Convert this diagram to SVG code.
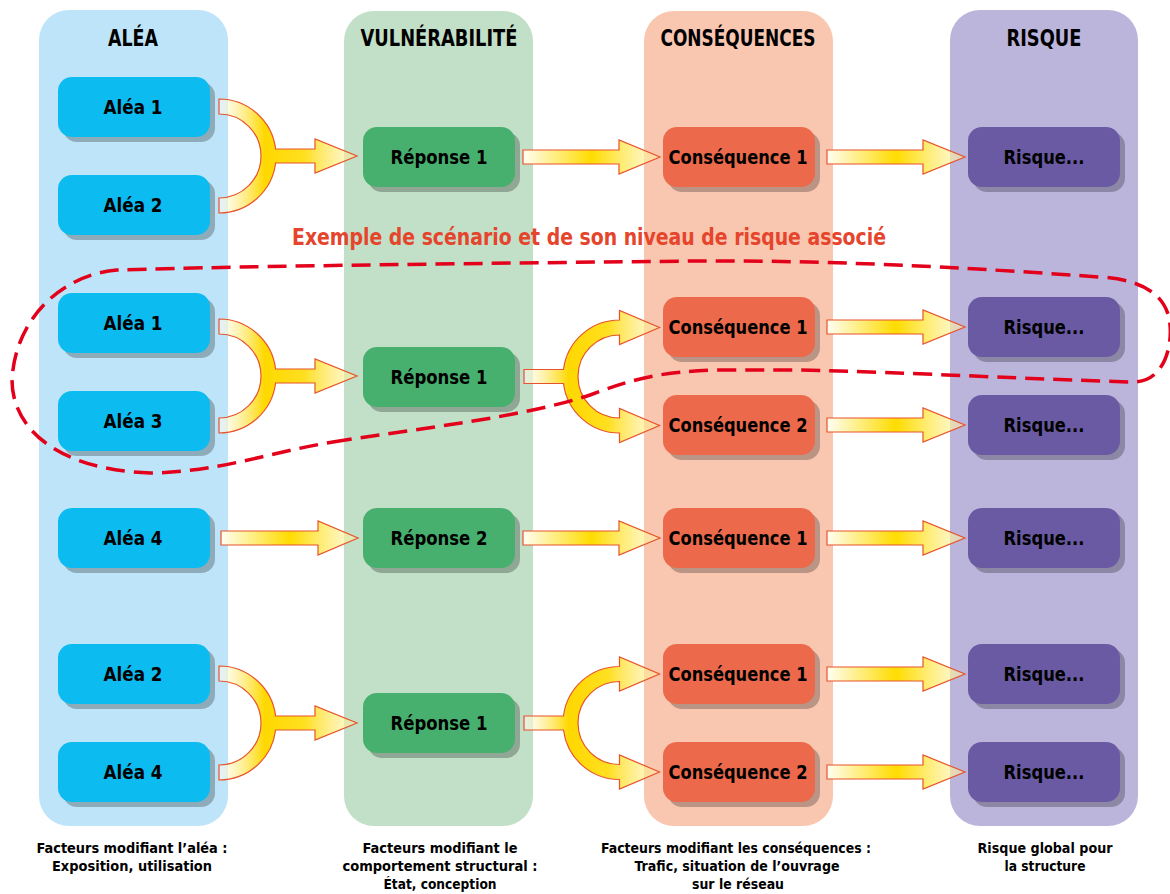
<svg xmlns="http://www.w3.org/2000/svg" width="1170" height="894" viewBox="0 0 1170 894">
<style>
text{font-family:"DejaVu Sans Condensed","DejaVu Sans",sans-serif;font-stretch:condensed;font-weight:bold;text-anchor:middle;fill:#000}
.hdr{font-size:23.5px}
.lbl{font-size:20px}
.cap{font-size:14.5px}
.title{font-size:22.5px;fill:#e5452c}
.sh{fill:#000;fill-opacity:0.25}
.alea{fill:#0cbbef}
.rep{fill:#47b06e}
.cons{fill:#ec694b}
.risk{fill:#6a5aa3}
.arr{stroke:#e8532b;stroke-width:1.2;stroke-linejoin:miter}
.s{fill:url(#gS)}
.m{fill:url(#gM)}
.loop{fill:none;stroke:#e3001b;stroke-width:3.5;stroke-dasharray:19 9}
</style>
<defs>
<linearGradient id="gS" x1="0" y1="0" x2="1" y2="0">
<stop offset="0" stop-color="#fffef4"/>
<stop offset="0.5" stop-color="#ffdc00"/>
<stop offset="0.72" stop-color="#ffec70"/>
<stop offset="1" stop-color="#fff3b0" stop-opacity="0.45"/>
</linearGradient>
<linearGradient id="gM" x1="0" y1="0" x2="1" y2="0">
<stop offset="0" stop-color="#ffffff" stop-opacity="0.55"/>
<stop offset="0.33" stop-color="#ffd800"/>
<stop offset="0.62" stop-color="#ffdf20"/>
<stop offset="1" stop-color="#fff3b0" stop-opacity="0.45"/>
</linearGradient>
</defs>
<rect width="1170" height="894" fill="#fff"/>
<g id="columns">
<g id="col-alea"><rect x="39" y="10" width="189" height="816" rx="30" fill="#bee4f9"/><text class="hdr" x="133" y="46" textLength="50" lengthAdjust="spacingAndGlyphs">ALÉA</text></g>
<g id="col-vuln"><rect x="344" y="11" width="189" height="815" rx="30" fill="#c2dfc7"/><text class="hdr" x="439" y="46" textLength="157" lengthAdjust="spacingAndGlyphs">VULNÉRABILITÉ</text></g>
<g id="col-cons"><rect x="644" y="11" width="189" height="815" rx="30" fill="#f9c6b0"/><text class="hdr" x="738" y="46" textLength="155" lengthAdjust="spacingAndGlyphs">CONSÉQUENCES</text></g>
<g id="col-risk"><rect x="950" y="10" width="188" height="816" rx="30" fill="#bbb5dc"/><text class="hdr" x="1044" y="46" textLength="75" lengthAdjust="spacingAndGlyphs">RISQUE</text></g>
</g>
<g id="connectors">
<path class="arr m" d="M219,99 A57,57 0 0 1 275.6,149 L315,149 L315,139 L357,156 L315,173 L315,163 L275.6,163 A57,57 0 0 1 219,213 L219,198 A42,42 0 0 0 219,114 Z"/>
<path class="arr s" d="M523,150 L619,150 L619,140 L660,157 L619,174 L619,164 L523,164 Z"/>
<path class="arr s" d="M827,150 L923,150 L923,140 L965,157 L923,174 L923,164 L827,164 Z"/>
<path class="arr m" d="M219,319 A57,57 0 0 1 275.6,369 L315,369 L315,359 L357,376 L315,393 L315,383 L275.6,383 A57,57 0 0 1 219,433 L219,418 A42,42 0 0 0 219,334 Z"/>
<path class="arr m" d="M524,369.5 L563.5,369.5 A56.5,56.5 0 0 1 619.5,320 L619.5,310.5 L659.5,327.5 L619.5,344.5 L619.5,335 A41.5,41.5 0 0 0 619.5,418 L619.5,408.5 L659.5,425.5 L619.5,442.5 L619.5,433 A56.5,56.5 0 0 1 563.5,383.5 L524,383.5 Z"/>
<path class="arr s" d="M827,320 L923,320 L923,310 L965,327 L923,344 L923,334 L827,334 Z"/>
<path class="arr s" d="M827,418 L923,418 L923,408 L965,425 L923,442 L923,432 L827,432 Z"/>
<path class="arr s" d="M221,531 L318,531 L318,521 L358,538 L318,555 L318,545 L221,545 Z"/>
<path class="arr s" d="M523,531 L619,531 L619,521 L660,538 L619,555 L619,545 L523,545 Z"/>
<path class="arr s" d="M827,531 L923,531 L923,521 L965,538 L923,555 L923,545 L827,545 Z"/>
<path class="arr m" d="M219,666 A57,57 0 0 1 275.6,716 L315,716 L315,706 L357,723 L315,740 L315,730 L275.6,730 A57,57 0 0 1 219,780 L219,765 A42,42 0 0 0 219,681 Z"/>
<path class="arr m" d="M524,716 L563.5,716 A56.5,56.5 0 0 1 619.5,666.5 L619.5,657 L659.5,674 L619.5,691 L619.5,681.5 A41.5,41.5 0 0 0 619.5,764.5 L619.5,755 L659.5,772 L619.5,789 L619.5,779.5 A56.5,56.5 0 0 1 563.5,730 L524,730 Z"/>
<path class="arr s" d="M827,667 L923,667 L923,657 L965,674 L923,691 L923,681 L827,681 Z"/>
<path class="arr s" d="M827,765 L923,765 L923,755 L965,772 L923,789 L923,779 L827,779 Z"/>
</g>
<g id="nodes">
<g id="n-alea1-a"><rect class="sh" x="63" y="82" width="152" height="60" rx="14"/><rect class="alea" x="58" y="77" width="152" height="60" rx="14"/><text class="lbl" x="133" y="114" textLength="59" lengthAdjust="spacingAndGlyphs">Aléa 1</text></g>
<g id="n-alea2-a"><rect class="sh" x="63" y="180" width="152" height="60" rx="14"/><rect class="alea" x="58" y="175" width="152" height="60" rx="14"/><text class="lbl" x="133" y="212" textLength="59" lengthAdjust="spacingAndGlyphs">Aléa 2</text></g>
<g id="n-rep1-a"><rect class="sh" x="368" y="132" width="152" height="60" rx="14"/><rect class="rep" x="363" y="127" width="152" height="60" rx="14"/><text class="lbl" x="439" y="164" textLength="97" lengthAdjust="spacingAndGlyphs">Réponse 1</text></g>
<g id="n-cons1-a"><rect class="sh" x="668" y="132" width="152" height="60" rx="14"/><rect class="cons" x="663" y="127" width="152" height="60" rx="14"/><text class="lbl" x="738" y="164" textLength="139" lengthAdjust="spacingAndGlyphs">Conséquence 1</text></g>
<g id="n-risk-a"><rect class="sh" x="973" y="132" width="152" height="60" rx="14"/><rect class="risk" x="968" y="127" width="152" height="60" rx="14"/><text class="lbl" x="1044" y="164" textLength="81" lengthAdjust="spacingAndGlyphs">Risque...</text></g>

<g id="n-alea1-b"><rect class="sh" x="63" y="298" width="152" height="60" rx="14"/><rect class="alea" x="58" y="293" width="152" height="60" rx="14"/><text class="lbl" x="133" y="330" textLength="59" lengthAdjust="spacingAndGlyphs">Aléa 1</text></g>
<g id="n-alea3-b"><rect class="sh" x="63" y="396" width="152" height="60" rx="14"/><rect class="alea" x="58" y="391" width="152" height="60" rx="14"/><text class="lbl" x="133" y="428" textLength="59" lengthAdjust="spacingAndGlyphs">Aléa 3</text></g>
<g id="n-rep1-b"><rect class="sh" x="368" y="352" width="152" height="60" rx="14"/><rect class="rep" x="363" y="347" width="152" height="60" rx="14"/><text class="lbl" x="439" y="384" textLength="97" lengthAdjust="spacingAndGlyphs">Réponse 1</text></g>
<g id="n-cons1-b"><rect class="sh" x="668" y="302" width="152" height="60" rx="14"/><rect class="cons" x="663" y="297" width="152" height="60" rx="14"/><text class="lbl" x="738" y="334" textLength="139" lengthAdjust="spacingAndGlyphs">Conséquence 1</text></g>
<g id="n-cons2-b"><rect class="sh" x="668" y="400" width="152" height="60" rx="14"/><rect class="cons" x="663" y="395" width="152" height="60" rx="14"/><text class="lbl" x="738" y="432" textLength="139" lengthAdjust="spacingAndGlyphs">Conséquence 2</text></g>
<g id="n-risk1-b"><rect class="sh" x="973" y="302" width="152" height="60" rx="14"/><rect class="risk" x="968" y="297" width="152" height="60" rx="14"/><text class="lbl" x="1044" y="334" textLength="81" lengthAdjust="spacingAndGlyphs">Risque...</text></g>
<g id="n-risk2-b"><rect class="sh" x="973" y="400" width="152" height="60" rx="14"/><rect class="risk" x="968" y="395" width="152" height="60" rx="14"/><text class="lbl" x="1044" y="432" textLength="81" lengthAdjust="spacingAndGlyphs">Risque...</text></g>

<g id="n-alea4-c"><rect class="sh" x="63" y="513" width="152" height="60" rx="14"/><rect class="alea" x="58" y="508" width="152" height="60" rx="14"/><text class="lbl" x="133" y="545" textLength="59" lengthAdjust="spacingAndGlyphs">Aléa 4</text></g>
<g id="n-rep2-c"><rect class="sh" x="368" y="513" width="152" height="60" rx="14"/><rect class="rep" x="363" y="508" width="152" height="60" rx="14"/><text class="lbl" x="439" y="545" textLength="97" lengthAdjust="spacingAndGlyphs">Réponse 2</text></g>
<g id="n-cons1-c"><rect class="sh" x="668" y="513" width="152" height="60" rx="14"/><rect class="cons" x="663" y="508" width="152" height="60" rx="14"/><text class="lbl" x="738" y="545" textLength="139" lengthAdjust="spacingAndGlyphs">Conséquence 1</text></g>
<g id="n-risk-c"><rect class="sh" x="973" y="513" width="152" height="60" rx="14"/><rect class="risk" x="968" y="508" width="152" height="60" rx="14"/><text class="lbl" x="1044" y="545" textLength="81" lengthAdjust="spacingAndGlyphs">Risque...</text></g>

<g id="n-alea2-d"><rect class="sh" x="63" y="649" width="152" height="60" rx="14"/><rect class="alea" x="58" y="644" width="152" height="60" rx="14"/><text class="lbl" x="133" y="681" textLength="59" lengthAdjust="spacingAndGlyphs">Aléa 2</text></g>
<g id="n-alea4-d"><rect class="sh" x="63" y="747" width="152" height="60" rx="14"/><rect class="alea" x="58" y="742" width="152" height="60" rx="14"/><text class="lbl" x="133" y="779" textLength="59" lengthAdjust="spacingAndGlyphs">Aléa 4</text></g>
<g id="n-rep1-d"><rect class="sh" x="368" y="698" width="152" height="60" rx="14"/><rect class="rep" x="363" y="693" width="152" height="60" rx="14"/><text class="lbl" x="439" y="730" textLength="97" lengthAdjust="spacingAndGlyphs">Réponse 1</text></g>
<g id="n-cons1-d"><rect class="sh" x="668" y="649" width="152" height="60" rx="14"/><rect class="cons" x="663" y="644" width="152" height="60" rx="14"/><text class="lbl" x="738" y="681" textLength="139" lengthAdjust="spacingAndGlyphs">Conséquence 1</text></g>
<g id="n-cons2-d"><rect class="sh" x="668" y="747" width="152" height="60" rx="14"/><rect class="cons" x="663" y="742" width="152" height="60" rx="14"/><text class="lbl" x="738" y="779" textLength="139" lengthAdjust="spacingAndGlyphs">Conséquence 2</text></g>
<g id="n-risk1-d"><rect class="sh" x="973" y="649" width="152" height="60" rx="14"/><rect class="risk" x="968" y="644" width="152" height="60" rx="14"/><text class="lbl" x="1044" y="681" textLength="81" lengthAdjust="spacingAndGlyphs">Risque...</text></g>
<g id="n-risk2-d"><rect class="sh" x="973" y="747" width="152" height="60" rx="14"/><rect class="risk" x="968" y="742" width="152" height="60" rx="14"/><text class="lbl" x="1044" y="779" textLength="81" lengthAdjust="spacingAndGlyphs">Risque...</text></g>
</g>
<g id="scenario">
<text class="title" x="589" y="245" textLength="594" lengthAdjust="spacingAndGlyphs">Exemple de scénario et de son niveau de risque associé</text>
<path class="loop" d="M333,442 C420,428 520,418 590,395 C630,380 660,371 720,370 L800,370 C900,372 1050,380 1133,382 C1165,382 1172,345 1170,325 C1168,300 1150,280 1100,277 C1000,270 850,260 700,261 C500,263 250,266 117,270 C60,275 15,320 12,380 C12,430 60,470 150,473 C220,472 270,452 333,442 Z"/>
</g>
<g id="captions">
<text class="cap" x="132" y="853" textLength="191" lengthAdjust="spacingAndGlyphs">Facteurs modifiant l’aléa :</text>
<text class="cap" x="132" y="871" textLength="160" lengthAdjust="spacingAndGlyphs">Exposition, utilisation</text>
<text class="cap" x="440" y="853" textLength="155" lengthAdjust="spacingAndGlyphs">Facteurs modifiant le</text>
<text class="cap" x="440" y="871" textLength="195" lengthAdjust="spacingAndGlyphs">comportement structural :</text>
<text class="cap" x="440" y="889" textLength="113" lengthAdjust="spacingAndGlyphs">État, conception</text>
<text class="cap" x="736" y="853" textLength="270" lengthAdjust="spacingAndGlyphs">Facteurs modifiant les conséquences :</text>
<text class="cap" x="737" y="871" textLength="205" lengthAdjust="spacingAndGlyphs">Trafic, situation de l’ouvrage</text>
<text class="cap" x="738" y="889" textLength="92" lengthAdjust="spacingAndGlyphs">sur le réseau</text>
<text class="cap" x="1045" y="853" textLength="135" lengthAdjust="spacingAndGlyphs">Risque global pour</text>
<text class="cap" x="1045" y="871" textLength="81" lengthAdjust="spacingAndGlyphs">la structure</text>
</g>
</svg>
